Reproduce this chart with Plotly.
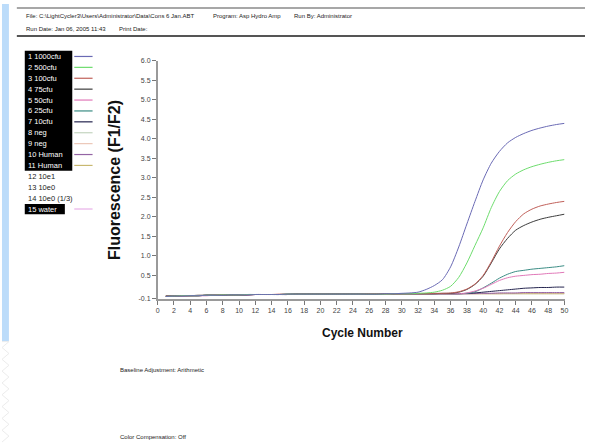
import plotly.graph_objects as go

W, H = 589, 446

cycles = list(range(1, 51))

names = ["1 1000cfu", "2 500cfu", "3 100cfu", "4 75cfu", "5 50cfu", "6 25cfu", "7 10cfu",
         "8 neg", "9 neg", "10 Human", "11 Human", "12 10e1", "13 10e0", "14 10e0 (1/3)", "15 water"]
colors = ["#6a6ab4", "#6ddc6d", "#c0605a", "#3c3c3c", "#e078b8", "#3a8c84", "#24244e",
          "#c4d4c0", "#ecc8b8", "#9464a4", "#c8b870", None, None, None, "#e8b0e8"]
selected = [True] * 11 + [False, False, False, True]

s1 = [-0.04, -0.03, -0.03, -0.02, -0.02, -0.01, -0.01, -0.01, 0.00, 0.00,
      0.00, 0.01, 0.01, 0.01, 0.01, 0.02, 0.02, 0.02, 0.02, 0.02,
      0.02, 0.02, 0.02, 0.02, 0.02, 0.02, 0.02, 0.03, 0.03, 0.04,
      0.05, 0.07, 0.14, 0.24, 0.39, 0.72, 1.23, 1.82, 2.40, 2.95,
      3.38, 3.68, 3.90, 4.04, 4.14, 4.22, 4.28, 4.33, 4.37, 4.40]
s2 = [-0.04, -0.03, -0.02, -0.02, -0.02, -0.01, -0.01, 0.00, 0.00, 0.00,
      0.01, 0.01, 0.01, 0.01, 0.01, 0.02, 0.02, 0.02, 0.02, 0.02,
      0.02, 0.02, 0.02, 0.02, 0.02, 0.02, 0.02, 0.02, 0.03, 0.03,
      0.03, 0.04, 0.05, 0.07, 0.12, 0.22, 0.45, 0.82, 1.27, 1.72,
      2.24, 2.65, 2.93, 3.10, 3.21, 3.29, 3.35, 3.40, 3.44, 3.47]
s3 = [-0.03, -0.03, -0.02, -0.02, -0.01, -0.01, -0.01, 0.00, 0.00, 0.00,
      0.01, 0.01, 0.01, 0.01, 0.02, 0.02, 0.02, 0.02, 0.02, 0.02,
      0.02, 0.02, 0.02, 0.02, 0.02, 0.03, 0.03, 0.03, 0.03, 0.03,
      0.03, 0.03, 0.03, 0.04, 0.04, 0.05, 0.08, 0.15, 0.28, 0.50,
      0.85, 1.25, 1.60, 1.88, 2.08, 2.20, 2.28, 2.33, 2.37, 2.40]
s4 = [-0.03, -0.03, -0.02, -0.02, -0.02, -0.01, -0.01, -0.01, 0.00, 0.00,
      0.00, 0.01, 0.01, 0.01, 0.01, 0.01, 0.02, 0.02, 0.02, 0.02,
      0.02, 0.02, 0.02, 0.02, 0.02, 0.02, 0.02, 0.03, 0.03, 0.03,
      0.03, 0.03, 0.03, 0.03, 0.04, 0.04, 0.07, 0.14, 0.27, 0.48,
      0.82, 1.18, 1.45, 1.66, 1.78, 1.87, 1.94, 1.99, 2.03, 2.07]
s5 = [-0.04, -0.03, -0.03, -0.02, -0.02, -0.02, -0.01, -0.01, 0.00, 0.00,
      0.00, 0.01, 0.01, 0.01, 0.01, 0.01, 0.02, 0.02, 0.02, 0.02,
      0.02, 0.02, 0.02, 0.02, 0.02, 0.02, 0.02, 0.02, 0.03, 0.03,
      0.03, 0.03, 0.03, 0.03, 0.03, 0.03, 0.03, 0.05, 0.10, 0.17,
      0.27, 0.37, 0.44, 0.48, 0.50, 0.52, 0.53, 0.55, 0.56, 0.58]
s6 = [-0.03, -0.03, -0.02, -0.02, -0.01, -0.01, -0.01, 0.00, 0.00, 0.00,
      0.01, 0.01, 0.01, 0.01, 0.01, 0.02, 0.02, 0.02, 0.02, 0.02,
      0.02, 0.02, 0.02, 0.02, 0.02, 0.02, 0.03, 0.03, 0.03, 0.03,
      0.03, 0.03, 0.03, 0.03, 0.03, 0.03, 0.03, 0.04, 0.08, 0.18,
      0.30, 0.43, 0.53, 0.60, 0.63, 0.66, 0.68, 0.70, 0.72, 0.75]
s7 = [-0.04, -0.03, -0.02, -0.02, -0.02, -0.01, -0.01, -0.01, 0.00, 0.00,
      0.01, 0.01, 0.01, 0.01, 0.01, 0.01, 0.02, 0.02, 0.02, 0.02,
      0.02, 0.02, 0.02, 0.02, 0.02, 0.02, 0.02, 0.03, 0.03, 0.03,
      0.03, 0.03, 0.03, 0.03, 0.03, 0.03, 0.03, 0.04, 0.05, 0.07,
      0.09, 0.11, 0.13, 0.15, 0.17, 0.18, 0.19, 0.19, 0.20, 0.20]
s8 = [-0.04, -0.03, -0.03, -0.02, -0.02, -0.01, -0.01, -0.01, 0.00, 0.00,
      0.00, 0.01, 0.01, 0.01, 0.01, 0.01, 0.02, 0.02, 0.02, 0.02,
      0.02, 0.02, 0.02, 0.02, 0.02, 0.02, 0.02, 0.02, 0.03, 0.03,
      0.03, 0.03, 0.03, 0.03, 0.03, 0.03, 0.03, 0.03, 0.03, 0.03,
      0.03, 0.03, 0.03, 0.03, 0.03, 0.03, 0.03, 0.03, 0.03, 0.03]
s9 = [-0.03, -0.03, -0.02, -0.02, -0.02, -0.01, -0.01, 0.00, 0.00, 0.00,
      0.01, 0.01, 0.01, 0.01, 0.01, 0.02, 0.02, 0.02, 0.02, 0.02,
      0.02, 0.02, 0.02, 0.02, 0.02, 0.02, 0.02, 0.03, 0.03, 0.03,
      0.03, 0.03, 0.03, 0.03, 0.03, 0.03, 0.03, 0.03, 0.03, 0.03,
      0.03, 0.03, 0.04, 0.04, 0.04, 0.04, 0.04, 0.04, 0.04, 0.04]
s10 = [-0.04, -0.03, -0.03, -0.02, -0.02, -0.01, -0.01, -0.01, 0.00, 0.00,
       0.00, 0.01, 0.01, 0.01, 0.01, 0.02, 0.02, 0.02, 0.02, 0.02,
       0.02, 0.02, 0.02, 0.02, 0.02, 0.02, 0.02, 0.03, 0.03, 0.03,
       0.03, 0.03, 0.03, 0.03, 0.03, 0.03, 0.03, 0.03, 0.04, 0.04,
       0.04, 0.05, 0.05, 0.05, 0.06, 0.06, 0.06, 0.06, 0.06, 0.06]
s11 = [-0.03, -0.03, -0.02, -0.02, -0.02, -0.01, -0.01, -0.01, 0.00, 0.00,
       0.00, 0.01, 0.01, 0.01, 0.01, 0.01, 0.02, 0.02, 0.02, 0.02,
       0.02, 0.02, 0.02, 0.02, 0.02, 0.02, 0.02, 0.02, 0.02, 0.03,
       0.03, 0.03, 0.03, 0.03, 0.03, 0.03, 0.03, 0.03, 0.03, 0.03,
       0.03, 0.03, 0.03, 0.03, 0.03, 0.03, 0.03, 0.03, 0.03, 0.03]
s15 = [-0.04, -0.03, -0.03, -0.02, -0.02, -0.02, -0.01, -0.01, 0.00, 0.00,
       0.00, 0.01, 0.01, 0.01, 0.01, 0.01, 0.02, 0.02, 0.02, 0.02,
       0.02, 0.02, 0.02, 0.02, 0.02, 0.02, 0.02, 0.03, 0.03, 0.03,
       0.03, 0.03, 0.03, 0.03, 0.03, 0.03, 0.03, 0.03, 0.03, 0.04,
       0.04, 0.04, 0.04, 0.04, 0.05, 0.05, 0.04, 0.05, 0.04, 0.04]

series = {0: s1, 1: s2, 2: s3, 3: s4, 4: s5, 5: s6, 6: s7, 7: s8, 8: s9, 9: s10, 10: s11, 14: s15}
draw_order = [7, 8, 14, 10, 9, 6, 5, 4, 3, 2, 1, 0]

y_ticks = [-0.1, 0.5, 1.0, 1.5, 2.0, 2.5, 3.0, 3.5, 4.0, 4.5, 5.0, 5.5, 6.0]
y_ticktext = ["-0.1", "0.5", "1.0", "1.5", "2.0", "2.5", "3.0", "3.5", "4.0", "4.5", "5.0", "5.5", "6.0"]
x_ticks = list(range(0, 51, 2))

header_row1 = [("File: C:\\LightCycler3\\Users\\Administrator\\Data\\Cons 6 Jan.ABT", 22),
               ("Program: Asp Hydro Amp", 211), ("Run By: Administrator", 293)]
header_row2 = [("Run Date: Jan 06, 2005 11:43", 22), ("Print Date:", 116)]
footer = [("Baseline Adjustment: Arithmetic", 371.5), ("Color Compensation: Off", 440)]

FONT = "Arial, Liberation Sans, sans-serif"

def px(x):
    return x / W

def py(y):
    return 1 - y / H

fig = go.Figure()
for i in draw_order:
    fig.add_trace(go.Scatter(x=cycles, y=series[i], mode="lines", name=names[i],
                             line=dict(color=colors[i], width=1, shape="spline", smoothing=0.7),
                             hoverinfo="skip", showlegend=False))

shapes = []
annotations = []

# left blue page bar
shapes.append(dict(type="rect", xref="paper", yref="paper", x0=0, x1=px(7), y0=py(343), y1=1,
                   fillcolor="#bcdcfa", line=dict(width=0), layer="below"))
# zigzag texture below bar
yy = 343
k = 0
pts = []
while yy < 446:
    pts.append((px(7) if k % 2 == 0 else 0, py(yy)))
    yy += 6
    k += 1
path_str = "M 0,{:.4f} ".format(py(343)) + " ".join("L {:.4f},{:.4f}".format(a, b) for a, b in pts)
shapes.append(dict(type="path", xref="paper", yref="paper", path=path_str,
                   line=dict(color="#ececec", width=1)))

# header lines
shapes.append(dict(type="line", xref="paper", yref="paper", x0=px(15), x1=1, y0=py(4), y1=py(4),
                   line=dict(color="#8a8a8a", width=1.5)))
shapes.append(dict(type="line", xref="paper", yref="paper", x0=px(15), x1=1, y0=py(32.5), y1=py(32.5),
                   line=dict(color="#555555", width=2)))

for txt, x in header_row1:
    annotations.append(dict(text=txt, x=px(x), y=py(12.5), xref="paper", yref="paper",
                            xanchor="left", yanchor="middle", showarrow=False,
                            font=dict(family=FONT, size=6, color="#222")))
for txt, x in header_row2:
    annotations.append(dict(text=txt, x=px(x), y=py(25), xref="paper", yref="paper",
                            xanchor="left", yanchor="middle", showarrow=False,
                            font=dict(family=FONT, size=6, color="#222")))
for txt, y in footer:
    annotations.append(dict(text=txt, x=px(117.5), y=py(y), xref="paper", yref="paper",
                            xanchor="left", yanchor="middle", showarrow=False,
                            font=dict(family=FONT, size=6, color="#222")))

# legend
row0 = 53.3
dy = 11.07
shapes.append(dict(type="rect", xref="paper", yref="paper", x0=px(23), x1=px(71),
                   y0=py(row0 - dy / 2 - 0.2), y1=py(row0 + 10 * dy + dy / 2),
                   fillcolor="black", line=dict(width=0)))
shapes.append(dict(type="rect", xref="paper", yref="paper", x0=px(23), x1=px(63.5),
                   y0=py(row0 + 14 * dy - dy / 2 + 0.5), y1=py(row0 + 14 * dy + dy / 2 - 0.3),
                   fillcolor="black", line=dict(width=0)))
for i, nm in enumerate(names):
    yc = row0 + i * dy
    annotations.append(dict(text=nm, x=px(24.5), y=py(yc), xref="paper", yref="paper",
                            xanchor="left", yanchor="middle", showarrow=False,
                            font=dict(family=FONT, size=7.5,
                                      color="white" if selected[i] else "#222")))
    if colors[i]:
        shapes.append(dict(type="line", xref="paper", yref="paper", x0=px(73), x1=px(91.5),
                           y0=py(yc), y1=py(yc), line=dict(color=colors[i], width=1.2)))

# axis titles
annotations.append(dict(text="<b>Fluorescence (F1/F2)</b>", x=px(113), y=py(179), xref="paper",
                        yref="paper", textangle=-90, showarrow=False, xanchor="center",
                        yanchor="middle", font=dict(family=FONT, size=16, color="#111")))
annotations.append(dict(text="<b>Cycle Number</b>", x=px(364), y=py(334), xref="paper",
                        yref="paper", showarrow=False, xanchor="center", yanchor="middle",
                        font=dict(family=FONT, size=12, color="#111")))

fig.update_layout(
    width=W, height=H, margin=dict(l=0, r=0, t=0, b=0),
    paper_bgcolor="white", plot_bgcolor="white",
    shapes=shapes, annotations=annotations, showlegend=False,
    xaxis=dict(domain=[px(157.3), px(568.3)], range=[0, 50], tickvals=x_ticks,
               ticks="outside", ticklen=4, tickcolor="#777", tickwidth=1,
               showline=True, linecolor="#9a9a9a", linewidth=2, showgrid=False, zeroline=False,
               tickfont=dict(family=FONT, size=7, color="#444")),
    yaxis=dict(domain=[py(299.5), py(57.9)], range=[-0.1, 6.0], tickvals=y_ticks,
               ticktext=y_ticktext, ticks="outside", ticklen=4, tickcolor="#777", tickwidth=1,
               showline=True, linecolor="#9a9a9a", linewidth=1.5, showgrid=False, zeroline=False,
               tickfont=dict(family=FONT, size=7, color="#444")),
)

fig.write_html("out.html", config={"displayModeBar": False},
               post_script="document.body.style.margin='0';document.body.style.overflow='hidden';")
